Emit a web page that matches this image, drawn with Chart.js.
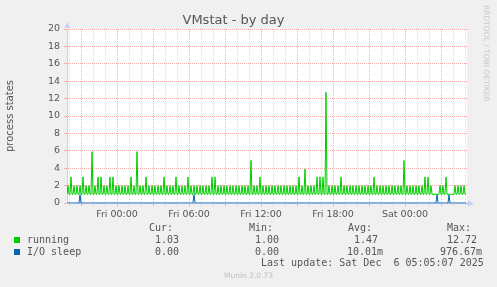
<!DOCTYPE html>
<html>
<head>
<meta charset="utf-8">
<title>VMstat - by day</title>
<script src="https://cdn.jsdelivr.net/npm/chart.js@4.4.0/dist/chart.umd.min.js"></script>
<style>
  html, body { margin: 0; padding: 0; background: #f0f0f0; }
  #wrap { position: relative; width: 497px; height: 287px; overflow: hidden; }
  #vmstatChart { position: absolute; left: 0; top: 0; }
  .lg { position: absolute; font-family: "DejaVu Sans Mono", monospace; font-size: 10px; line-height: 12px; color: #555; white-space: pre; }
  .sq { position: absolute; width: 6px; height: 6px; }
  #rrd { position: absolute; left: 482px; top: 5px; writing-mode: vertical-rl; font-family: "DejaVu Sans", sans-serif; font-size: 7.5px; color: #c8c8c8; white-space: pre; }
  #munin { position: absolute; left: 0; width: 497px; top: 271px; text-align: center; font-family: "DejaVu Sans", sans-serif; font-size: 7.5px; color: #c0c0c0; }
</style>
</head>
<body>
<div id="wrap">
  <canvas id="vmstatChart" width="497" height="287"></canvas>
  <div id="rrd">RRDTOOL / TOBI OETIKER</div>

  <div class="lg" style="left:149px; top:222px">Cur:</div>
  <div class="lg" style="left:249px; top:222px">Min:</div>
  <div class="lg" style="left:348px; top:222px">Avg:</div>
  <div class="lg" style="left:447px; top:222px">Max:</div>

  <div class="sq" style="left:14px; top:237px; background:#00cc00"></div>
  <div class="lg" style="left:27px; top:234px">running</div>
  <div class="lg" style="left:155px; top:234px">1.03</div>
  <div class="lg" style="left:255px; top:234px">1.00</div>
  <div class="lg" style="left:354px; top:234px">1.47</div>
  <div class="lg" style="left:447px; top:234px">12.72</div>

  <div class="sq" style="left:14px; top:249px; background:#0066b3"></div>
  <div class="lg" style="left:27px; top:246px">I/O sleep</div>
  <div class="lg" style="left:155px; top:246px">0.00</div>
  <div class="lg" style="left:255px; top:246px">0.00</div>
  <div class="lg" style="left:347px; top:246px">10.01m</div>
  <div class="lg" style="left:440px; top:246px">976.67m</div>

  <div class="lg" style="left:261px; top:257px">Last update: Sat Dec  6 05:05:07 2025</div>
  <div id="munin">Munin 2.0.73</div>
</div>

<script>
// 5 minute samples, Thu 19:50 -> Sat 05:10
let runningStates = [
  1,2,1, 1,3,1, 1,2,1, 1,2,1, 1,2,1, 1,3,1, 1,2,1, 1,2,1, 1,5.9,1, 1,2,1,
  1,3,1, 1,3,1, 1,2,1, 1,2,1, 1,3,1, 1,3,1, 1,2,1, 1,2,1, 1,2,1, 1,2,1,
  1,2,1, 1,3,1, 1,2,1, 1,5.9,1, 1,2,1, 1,2,1, 1,3,1, 1,2,1, 1,2,1, 1,2,1,
  1,2,1, 1,2,1, 1,3,1, 1,2,1, 1,2,1, 1,2,1, 1,3,1, 1,2,1, 1,2,1, 1,2,1,
  1,3,1, 1,2,1, 1,2,1, 1,2,1, 1,2,1, 1,2,1, 1,2,1, 1,2,1, 1,3,1, 1,3,1,
  1,2,1, 1,2,1, 1,2,1, 1,2,1, 1,2,1, 1,2,1, 1,2,1, 1,2,1, 1,2,1, 1,2,1,
  1,2,1, 1,4.9,1, 1,2,1, 1,2,1, 1,3,1, 1,2,1, 1,2,1, 1,2,1, 1,2,1, 1,2,1,
  1,2,1, 1,2,1, 1,2,1, 1,2,1, 1,2,1, 1,2,1, 1,2,1, 1,3,1, 1,2,1, 1,3.9,1,
  1,2,1, 1,2,1, 1,2,1, 1,3,1, 1,3,1, 1,3,1, 1,12.72,1, 1,2,1, 1,2,1, 1,2,1,
  1,2,1, 1,3,1, 1,2,1, 1,2,1, 1,2,1, 1,2,1, 1,2,1, 1,2,1, 1,2,1, 1,2,1,
  1,2,1, 1,2,1, 1,3,1, 1,2,1, 1,2,1, 1,2,1, 1,2,1, 1,2,1, 1,2,1, 1,2,1,
  1,2,1, 1,2,1, 1,4.9,1, 1,2,1, 1,2,1, 1,2,1, 1,2,1, 1,2,1, 1,2,1, 1,3,1,
  1,3,1, 1,2,1, 1,1,1, 1,1,1, 1,2,1, 1,2,1, 1,3,1, 1,1,1, 1,1,1, 1,2,1,
  1,2,1, 1,2,1, 1,2,1, 1.03
];

let ioSleep = [
  0,0,0,0,0,0,0,0,0,0,0,0,0,0.95,0,0,0,0,0,0,0,0,0,0,0,0,0,0,0,0,0,0,0,0,0,0,0,0,0,0,
  0,0,0,0,0,0,0,0,0,0,0,0,0,0,0,0,0,0,0,0,0,0,0,0,0,0,0,0,0,0,0,0,0,0,0,0,0,0,0,0,
  0,0,0,0,0,0,0,0,0,0,0,0,0,0,0,0,0,0,0,0,0,0,0,0,0,0,0,0,0,0,0,0,0,0,0,0,0,0,0,0,
  0,0,0,0,0,0,0,0.97,0.08,0,0,0,0,0,0,0,0,0,0,0,0,0,0,0,0,0,0,0,0,0,0,0,0,0,0,0,0,0,0,0,
  0,0,0,0,0,0,0,0,0,0,0,0,0,0,0,0,0,0,0,0,0,0,0,0,0,0,0,0,0,0,0,0,0,0,0,0,0,0,0,0,
  0,0,0,0,0,0,0,0,0,0,0,0,0,0,0,0,0,0,0,0,0,0,0,0,0,0,0,0,0,0,0,0,0,0,0,0,0,0,0,0,
  0,0,0,0,0,0,0,0,0,0,0,0,0,0,0,0,0,0,0,0,0,0,0,0,0,0,0,0,0,0,0,0,0,0,0,0,0,0,0,0,
  0,0,0,0,0,0,0,0,0,0,0,0,0,0,0,0,0,0,0,0,0,0,0,0,0,0,0,0,0,0,0,0,0,0,0,0,0,0,0,0,
  0,0,0,0,0,0,0,0,0,0,0,0,0,0,0,0,0,0,0,0,0,0,0,0,0,0,0,0,0,0,0,0,0,0,0,0,0,0,0,0,
  0,0,0,0,0,0,0,0,0,0,0.9767,0.05,0,0,0,0,0,0,0,0,0,0,0.96,0,0,0,0,0,0,0,0,0,0,0,0,0,0,0,0,0
];

// time axis in minutes since Thu 00:00
const startMinute = 1190;
const endMinute = 3190;
let sampleMinutes = runningStates.map((v, i) => startMinute + i * 5);

let labelMinutes = [1440, 1800, 2160, 2520, 2880];
let labelNames = ["Fri 00:00", "Fri 06:00", "Fri 12:00", "Fri 18:00", "Sat 00:00"];

const majorGrid = "#f7aaaa";
const minorGrid = "#dadada";

const plotBackground = {
  id: "plotBackground",
  beforeDraw: (chart) => {
    const { ctx, chartArea } = chart;
    ctx.save();
    ctx.fillStyle = "#ffffff";
    ctx.fillRect(chartArea.left, chartArea.top, chartArea.width, chartArea.height);
    ctx.restore();
  },
};

// the little arrow heads at the end of both axes
const axisArrows = {
  id: "axisArrows",
  afterDraw: (chart) => {
    const { ctx, chartArea } = chart;
    ctx.save();
    ctx.fillStyle = "#c9d0f4";
    ctx.beginPath();
    ctx.moveTo(chartArea.left - 2.5, chartArea.top - 1);
    ctx.lineTo(chartArea.left + 3.5, chartArea.top - 1);
    ctx.lineTo(chartArea.left + 0.5, chartArea.top - 7);
    ctx.fill();
    ctx.beginPath();
    ctx.moveTo(chartArea.right + 1, chartArea.bottom - 2.5);
    ctx.lineTo(chartArea.right + 1, chartArea.bottom + 3.5);
    ctx.lineTo(chartArea.right + 7, chartArea.bottom + 0.5);
    ctx.fill();
    ctx.restore();
  },
};

new Chart("vmstatChart", {
  type: "line",
  data: {
    labels: sampleMinutes,
    datasets: [
      {
        label: "running",
        data: runningStates,
        borderColor: "#00cc00",
        borderWidth: 1,
        pointRadius: 0,
        tension: 0,
        fill: false,
      },
      {
        label: "I/O sleep",
        data: ioSleep,
        borderColor: "#0066b3",
        borderWidth: 1,
        pointRadius: 0,
        tension: 0,
        fill: false,
      },
    ],
  },
  options: {
    responsive: false,
    animation: false,
    devicePixelRatio: 1,
    layout: { padding: { left: 0, right: 30, top: 0, bottom: 64 } },
    plugins: {
      legend: { display: false },
      tooltip: { enabled: false },
      title: {
        display: true,
        text: "VMstat - by day",
        color: "#555",
        font: { family: "DejaVu Sans", size: 13, weight: "normal" },
        padding: { top: 12.5, bottom: 0.9 },
      },
    },
    scales: {
      x: {
        type: "linear",
        min: startMinute,
        max: endMinute,
        afterBuildTicks: (scale) => {
          let ticks = [];
          for (let m = 1200; m < endMinute; m += 60) ticks.push({ value: m });
          scale.ticks = ticks;
        },
        afterFit: (scale) => {
          scale.height = 20;
        },
        ticks: {
          autoSkip: false,
          maxRotation: 0,
          padding: 3,
          color: "#555",
          font: { family: "DejaVu Sans", size: 9.5 },
          callback: (value) => {
            let k = labelMinutes.indexOf(value);
            return k >= 0 ? labelNames[k] : "";
          },
        },
        grid: {
          color: (ctx) => (ctx.tick && ctx.tick.value % 180 === 0 ? majorGrid : minorGrid),
          tickColor: (ctx) => (ctx.tick && ctx.tick.value % 180 === 0 ? majorGrid : minorGrid),
          tickLength: 3,
          lineWidth: 1,
        },
        border: { display: true, color: "#98aede", width: 1, dash: [1, 1] },
      },
      y: {
        min: 0,
        max: 20,
        afterFit: (scale) => {
          scale.width = 67;
        },
        ticks: {
          stepSize: 1,
          padding: 4,
          color: "#555",
          font: { family: "DejaVu Sans", size: 9.5 },
          callback: (value) => (value % 2 === 0 ? value : ""),
        },
        grid: {
          color: (ctx) => (ctx.tick && ctx.tick.value % 2 === 0 ? majorGrid : minorGrid),
          tickColor: (ctx) => (ctx.tick && ctx.tick.value % 2 === 0 ? majorGrid : minorGrid),
          tickLength: 3,
          lineWidth: 1,
        },
        border: { display: true, color: "#c5cdf2", width: 1, dash: [1, 1] },
        title: {
          display: true,
          text: "process states",
          color: "#555",
          font: { family: "DejaVu Sans", size: 10 },
          padding: { top: 4, bottom: 0 },
        },
      },
    },
  },
  plugins: [plotBackground, axisArrows],
});
</script>
</body>
</html>
